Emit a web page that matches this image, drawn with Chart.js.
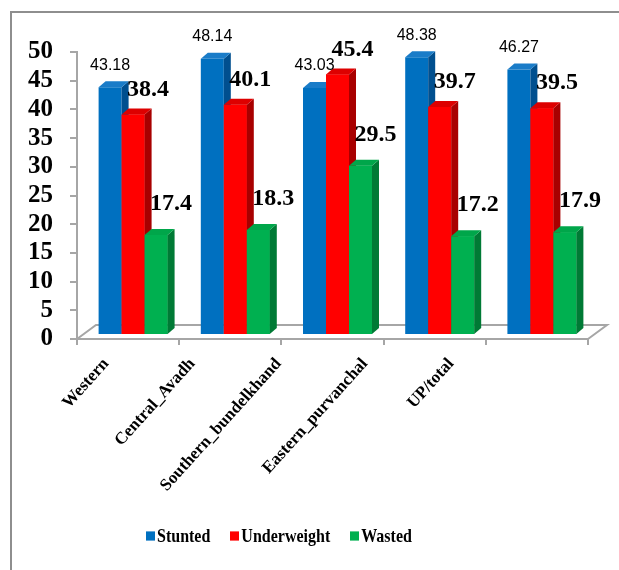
<!DOCTYPE html>
<html>
<head>
<meta charset="utf-8">
<script src="https://cdn.jsdelivr.net/npm/chart.js@4.4.1/dist/chart.umd.min.js"></script>
<style>
  body{margin:0;width:619px;height:570px;overflow:hidden;background:#fff;position:relative;}
  #frame{position:absolute;left:10px;top:11px;width:700px;height:700px;border-top:2px solid #8e8e8e;border-left:2px solid #8e8e8e;}
  #c{position:absolute;left:0;top:0;}
  #legend{position:absolute;left:146px;top:527px;display:flex;align-items:center;font:bold 16px "Liberation Serif",serif;color:#000;transform:scaleY(1.15);transform-origin:left center;}
  #legend .item{display:flex;align-items:center;margin-right:20px;}
  #legend .box{width:9px;height:8px;margin-right:2px;}
</style>
</head>
<body>
<div id="frame"></div>
<canvas id="c" width="619" height="570"></canvas>
<div id="legend"></div>
<script>
// data
const categories = ['Western', 'Central_Avadh', 'Southern_bundelkhand', 'Eastern_purvanchal', 'UP/total'];
const seriesNames = ['Stunted', 'Underweight', 'Wasted'];
const stunted = [43.18, 48.14, 43.03, 48.38, 46.27];
const underweight = [38.4, 40.1, 45.4, 39.7, 39.5];
const wasted = [17.4, 18.3, 29.5, 17.2, 17.9];
const yMin = 0, yMax = 50, yStep = 5;

// colours: front, side, top
const faceColors = [
  ['#0070c0', '#004f8f', '#1a7cc8'],
  ['#ff0000', '#a80000', '#dd0000'],
  ['#00b050', '#007a35', '#00a64a']
];

const SHIFT_X = 5, SHIFT_Y = -4;   // bars sit a bit inside the floor
const DEPTH_X = 7, DEPTH_Y = 6;    // bar depth
const FLOOR_DX = 19, FLOOR_DY = 14;

function drawFaces(ctx, bar, cols) {
  const l = bar.x - bar.width / 2, r = bar.x + bar.width / 2;
  const top = Math.min(bar.y, bar.base), bot = Math.max(bar.y, bar.base);
  ctx.fillStyle = cols[1];
  ctx.beginPath();
  ctx.moveTo(r, top); ctx.lineTo(r + DEPTH_X, top - DEPTH_Y);
  ctx.lineTo(r + DEPTH_X, bot - DEPTH_Y); ctx.lineTo(r, bot);
  ctx.closePath(); ctx.fill();
  ctx.fillStyle = cols[2];
  ctx.beginPath();
  ctx.moveTo(l, top); ctx.lineTo(l + DEPTH_X, top - DEPTH_Y);
  ctx.lineTo(r + DEPTH_X, top - DEPTH_Y); ctx.lineTo(r, top);
  ctx.closePath(); ctx.fill();
}

const bar3d = {
  id: 'bar3d',
  beforeDatasetsDraw(chart) {
    const {ctx, chartArea: a} = chart;
    ctx.save();
    ctx.beginPath();
    ctx.moveTo(a.left, a.bottom);
    ctx.lineTo(a.left + FLOOR_DX, a.bottom - FLOOR_DY);
    ctx.lineTo(a.right + FLOOR_DX, a.bottom - FLOOR_DY);
    ctx.lineTo(a.right, a.bottom);
    ctx.strokeStyle = '#a6a6a6';
    ctx.lineWidth = 2;
    ctx.stroke();
    ctx.restore();
    ctx.save();
    ctx.translate(SHIFT_X, SHIFT_Y);
  },
  afterDatasetsDraw(chart) {
    const ctx = chart.ctx;
    // side and top faces, left series first; each next bar covers the previous side
    chart.data.datasets.forEach((ds, k) => {
      const meta = chart.getDatasetMeta(k);
      meta.data.forEach(bar => {
        if (k > 0) bar.draw(ctx);
        drawFaces(ctx, bar, faceColors[k]);
      });
    });
    // value labels
    ctx.fillStyle = '#000';
    ctx.textBaseline = 'middle';
    ctx.textAlign = 'center';
    ctx.font = '16px "Liberation Sans", Arial, sans-serif';
    chart.getDatasetMeta(0).data.forEach((bar, i) => {
      ctx.fillText(stunted[i].toFixed(2), bar.x, bar.y - 22);
    });
    ctx.font = 'bold 24px "Liberation Serif", serif';
    chart.getDatasetMeta(1).data.forEach((bar, i) => {
      ctx.fillText(underweight[i].toFixed(1), bar.x + 15, bar.y - 25);
    });
    chart.getDatasetMeta(2).data.forEach((bar, i) => {
      ctx.fillText(wasted[i].toFixed(1), bar.x + 15, bar.y - 31);
    });
    ctx.restore();
  },
  afterDraw(chart) {
    // category labels, rotated, pulled together like the 3D projection does
    const ctx = chart.ctx, xs = chart.scales.x;
    ctx.save();
    ctx.font = 'bold 17px "Liberation Serif", serif';
    ctx.fillStyle = '#000';
    ctx.textAlign = 'right';
    ctx.textBaseline = 'middle';
    categories.forEach((c, i) => {
      const p = xs.getPixelForValue(i);
      const ax = xs.left + (p - xs.left) * 0.844 - 14;
      const ay = xs.top + 22;
      ctx.save();
      ctx.translate(ax, ay);
      ctx.rotate(-48 * Math.PI / 180);
      ctx.fillText(c, 0, 0);
      ctx.restore();
    });
    ctx.restore();
  }
};

const seriesData = [stunted, underweight, wasted];

const chart = new Chart(document.getElementById('c'), {
  type: 'bar',
  data: {
    labels: categories,
    datasets: seriesNames.map((name, k) => ({
      label: name,
      data: seriesData[k],
      backgroundColor: faceColors[k][0],
      borderWidth: 0,
      categoryPercentage: 0.675,
      barPercentage: 1.0,
      clip: false
    }))
  },
  options: {
    responsive: false,
    animation: false,
    layout: { padding: { left: 0, top: 52, right: 31, bottom: 225 } },
    plugins: { legend: { display: false }, tooltip: { enabled: false } },
    scales: {
      x: {
        ticks: { display: false },
        grid: { drawOnChartArea: false, drawTicks: true, tickLength: 6, color: '#a6a6a6', offset: true, lineWidth: 2 },
        border: { color: '#a6a6a6', width: 2 },
        afterFit(s) { s.height = 6; }
      },
      y: {
        min: yMin, max: yMax,
        ticks: {
          stepSize: yStep,
          autoSkip: false,
          padding: 17,
          color: '#000',
          font: { family: '"Liberation Serif", serif', size: 25, weight: 'bold' }
        },
        grid: { drawOnChartArea: false, drawTicks: true, tickLength: 7, color: '#a6a6a6', lineWidth: 2 },
        border: { color: '#a6a6a6', width: 2 },
        afterFit(s) { s.width = 77; }
      }
    }
  },
  plugins: [bar3d]
});

// legend from the chart's own datasets
const legend = document.getElementById('legend');
chart.data.datasets.forEach(ds => {
  const item = document.createElement('div');
  item.className = 'item';
  const box = document.createElement('span');
  box.className = 'box';
  box.style.background = ds.backgroundColor;
  const txt = document.createElement('span');
  txt.textContent = ds.label;
  item.appendChild(box);
  item.appendChild(txt);
  legend.appendChild(item);
});
</script>
</body>
</html>
